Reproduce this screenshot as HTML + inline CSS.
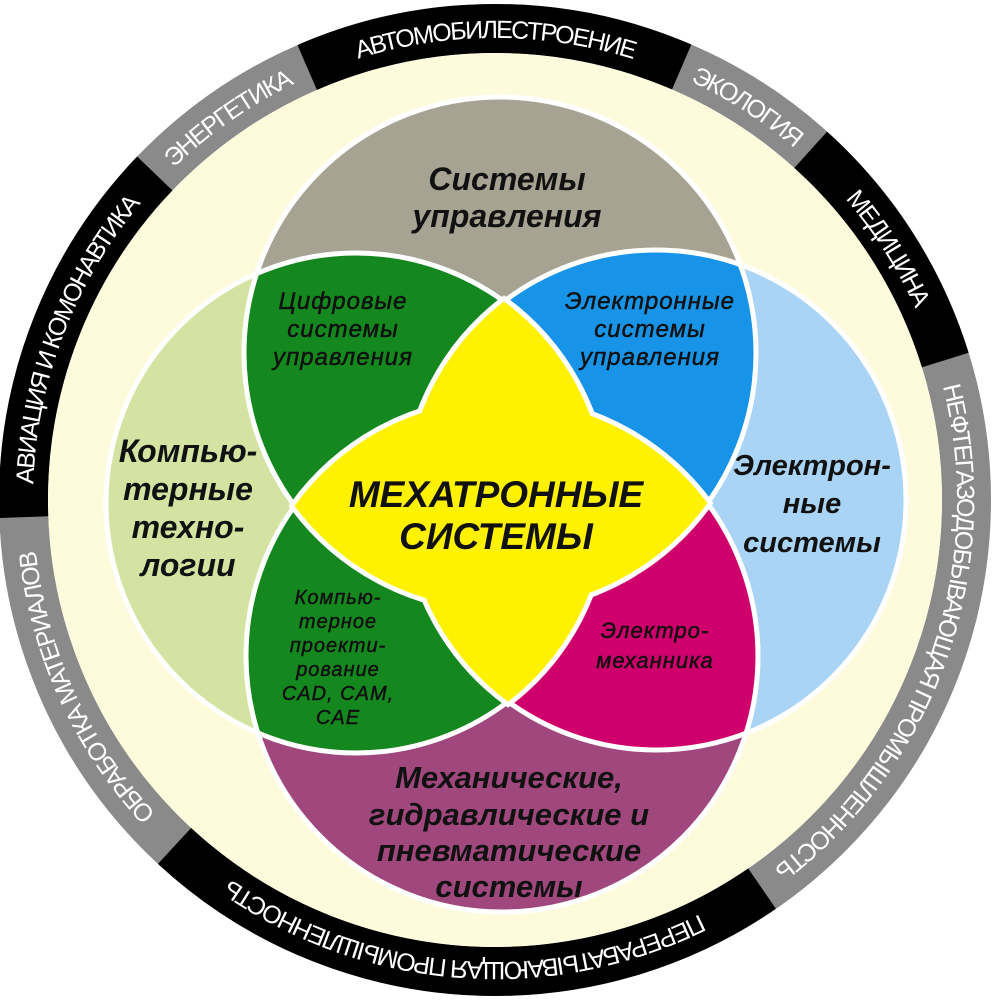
<!DOCTYPE html>
<html><head><meta charset="utf-8"><style>
html,body{margin:0;padding:0;background:#fff;}
svg{display:block;}
.t{font-family:"Liberation Sans",sans-serif;font-style:italic;font-weight:bold;fill:#111;text-anchor:middle;}
.s{font-family:"Liberation Sans",sans-serif;font-style:italic;fill:#111;text-anchor:middle;letter-spacing:1px;stroke:#111;stroke-width:0.5;}
.r{font-family:"Liberation Sans",sans-serif;fill:#fff;font-size:25px;letter-spacing:-1.8px;text-anchor:middle;}
</style></head><body>
<svg width="1003" height="1003" viewBox="0 0 1003 1003" xmlns="http://www.w3.org/2000/svg">
<defs>
<clipPath id="cL"><circle cx="356" cy="503" r="250"/></clipPath>
<clipPath id="cR"><circle cx="656" cy="500" r="250"/></clipPath>
<clipPath id="cT"><circle cx="500" cy="353" r="256"/></clipPath>
<clipPath id="cB"><circle cx="502" cy="656" r="256"/></clipPath>
<path id="tp" d="M957,500 A462,462 0 1 1 33,500 A462,462 0 1 1 957,500 A462,462 0 1 1 33,500 A462,462 0 1 1 957,500"/>
</defs>
<circle cx="495" cy="500" r="471.5" fill="none" stroke="#8a8a8a" stroke-width="49"/>
<g fill="none" stroke="#000" stroke-width="49">
<circle cx="495" cy="500" r="471.5" stroke-dasharray="636.1 5000" stroke-dashoffset="-456.7"/>
<circle cx="495" cy="500" r="471.5" stroke-dasharray="377.7 5000" stroke-dashoffset="-1464"/>
<circle cx="495" cy="500" r="471.5" stroke-dasharray="385.1 5000" stroke-dashoffset="-2028.5"/>
<circle cx="495" cy="500" r="471.5" stroke-dasharray="252.6 5000" stroke-dashoffset="-2567.5"/>
</g>
<circle cx="495" cy="500" r="447" fill="#fefbdc"/>
<text class="r"><textPath href="#tp" startOffset="27.9%">АВИАЦИЯ И КОМОНАВТИКА</textPath></text>
<text class="r"><textPath href="#tp" startOffset="32.64%">ЭНЕРГЕТИКА</textPath></text>
<text class="r"><textPath href="#tp" startOffset="37.5%">АВТОМОБИЛЕСТРОЕНИЕ</textPath></text>
<text class="r"><textPath href="#tp" startOffset="42.03%">ЭКОЛОГИЯ</textPath></text>
<text class="r"><textPath href="#tp" startOffset="45.46%">МЕДИЦИНА</textPath></text>
<text class="r"><textPath href="#tp" startOffset="52.67%">НЕФТЕГАЗОДОБЫВАЮЩАЯ ПРОМЫШЛЕННОСТЬ</textPath></text>
<text class="r"><textPath href="#tp" startOffset="13.08%">ПЕРЕРАБАТЫВАЮЩАЯ ПРОМЫШЛЕННОСТЬ</textPath></text>
<text class="r"><textPath href="#tp" startOffset="21.58%">ОБРАБОТКА МАТЕРИАЛОВ</textPath></text>

<circle cx="356" cy="503" r="250" fill="#d4e3a2"/>
<circle cx="656" cy="500" r="250" fill="#a9d4f5"/>
<circle cx="500" cy="353" r="256" fill="#a6a393"/>
<circle cx="502" cy="656" r="256" fill="#a0487e"/>
<g clip-path="url(#cL)"><circle cx="500" cy="353" r="256" fill="#14881f"/></g>
<g clip-path="url(#cR)"><circle cx="500" cy="353" r="256" fill="#1794e8"/></g>
<g clip-path="url(#cL)"><circle cx="502" cy="656" r="256" fill="#14881f"/></g>
<g clip-path="url(#cR)"><circle cx="502" cy="656" r="256" fill="#cf006c"/></g>
<g fill="none" stroke="#fff" stroke-width="5">
<circle cx="356" cy="503" r="250"/>
<circle cx="656" cy="500" r="250"/>
<circle cx="500" cy="353" r="256"/>
<circle cx="502" cy="656" r="256"/>
</g>
<g fill="none" stroke="#fff" stroke-width="10">
<path d="M294.6,505.9 A256,256 0 0 1 707.4,503.1 A256,256 0 0 1 294.6,505.9 Z"/>
<path d="M504,301.5 A250,250 0 0 0 508,701.5 A250,250 0 0 0 504,301.5 Z"/>
</g>
<g fill="#fff200">
<path d="M294.6,505.9 A256,256 0 0 1 707.4,503.1 A256,256 0 0 1 294.6,505.9 Z"/>
<path d="M504,301.5 A250,250 0 0 0 508,701.5 A250,250 0 0 0 504,301.5 Z"/>
</g>

<text class="t" font-size="32" x="507" y="190">Системы</text>
<text class="t" font-size="32" x="507" y="227">управления</text>

<text class="s" font-size="24" x="343" y="309">Цифровые</text>
<text class="s" font-size="24" x="343" y="337">системы</text>
<text class="s" font-size="24" x="343" y="365">управления</text>

<text class="s" font-size="24" x="650" y="309">Электронные</text>
<text class="s" font-size="24" x="650" y="337">системы</text>
<text class="s" font-size="24" x="650" y="365">управления</text>

<text class="t" font-size="32" x="188" y="462">Компью-</text>
<text class="t" font-size="32" x="188" y="500">терные</text>
<text class="t" font-size="32" x="188" y="538">техно-</text>
<text class="t" font-size="32" x="188" y="576">логии</text>

<text class="t" font-size="29" x="812" y="475">Электрон-</text>
<text class="t" font-size="29" x="812" y="513">ные</text>
<text class="t" font-size="29" x="812" y="552">системы</text>

<text class="t" font-size="37" x="496" y="507">МЕХАТРОННЫЕ</text>
<text class="t" font-size="37" x="496" y="549">СИСТЕМЫ</text>

<text class="s" font-size="20" x="338" y="604">Компью-</text>
<text class="s" font-size="20" x="338" y="628">терное</text>
<text class="s" font-size="20" x="338" y="652">проекти-</text>
<text class="s" font-size="20" x="338" y="676">рование</text>
<text class="s" font-size="20" x="338" y="700">CAD, CAM,</text>
<text class="s" font-size="20" x="338" y="724">CAE</text>

<text class="s" font-size="22" x="655" y="638">Электро-</text>
<text class="s" font-size="22" x="655" y="668">механника</text>

<text class="t" font-size="31" x="509" y="788">Механические,</text>
<text class="t" font-size="31" x="509" y="825">гидравлические и</text>
<text class="t" font-size="31" x="509" y="861">пневматические</text>
<text class="t" font-size="31" x="509" y="897">системы</text>
</svg>
</body></html>
